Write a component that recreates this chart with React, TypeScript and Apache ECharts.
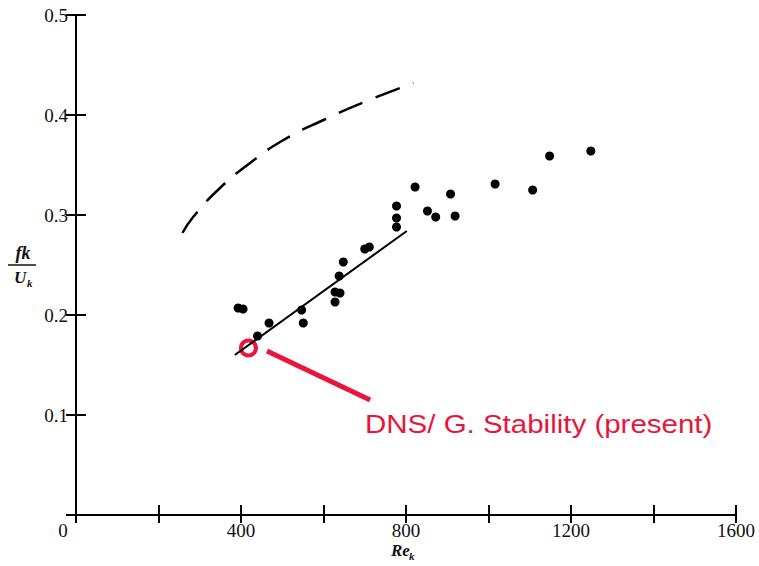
import React, { useEffect, useRef } from "react";
import * as echarts from "echarts";

const xTicks = [0, 200, 400, 600, 800, 1000, 1200, 1400, 1600];
const scatterRe = [393, 405, 440, 468, 547, 551, 628, 640, 628, 638, 648, 700, 711, 777, 777, 777, 822, 852, 872, 908, 919, 1016, 1107, 1148, 1248];
const scatterF = [0.207, 0.206, 0.179, 0.192, 0.205, 0.192, 0.223, 0.222, 0.213, 0.239, 0.253, 0.266, 0.268, 0.309, 0.297, 0.288, 0.328, 0.304, 0.298, 0.321, 0.299, 0.331, 0.325, 0.359, 0.364];
const fitRe = [385, 802];
const fitF = [0.16, 0.284];
const dashedRe = [258, 284, 349, 422, 503, 600, 705, 818];
const dashedF = [0.282, 0.298, 0.327, 0.352, 0.375, 0.395, 0.414, 0.432];
const markerRe = [418];
const markerF = [0.167];
const pointerRe = [463, 713];
const pointerF = [0.164, 0.115];
const annotation = "DNS/ G. Stability (present)";

const serif = "'Liberation Serif', 'DejaVu Serif', serif";
const RED = "#e8163c";

export default function App() {
  const ref = useRef<HTMLDivElement>(null);
  useEffect(() => {
    if (!ref.current) return;
    const chart = echarts.init(ref.current, undefined, { renderer: "svg" });
    const zip = (a: number[], b: number[]) => a.map((v, i) => [v, b[i]]);
    const axisCommon = {
      type: "value" as const,
      axisLine: { show: true, lineStyle: { color: "#000", width: 2 } },
      axisTick: { show: true, inside: true, length: 10, lineStyle: { color: "#000", width: 2 } },
      splitLine: { show: false },
    };
    chart.setOption({
      animation: false,
      grid: { left: 76, right: 23, top: 15, bottom: 51 },
      xAxis: [
        {
          ...axisCommon,
          position: "bottom",
          min: 0,
          max: 1600,
          interval: 200,
          axisLabel: {
            margin: 6,
            color: "#111",
            fontFamily: serif,
            fontSize: 19,
            formatter: (v: number) => (v === 0 ? "{z|0}" : v % 400 === 0 ? String(v) : ""),
            rich: { z: { fontFamily: serif, fontSize: 19, color: "#111", padding: [0, 26, 0, 0] } },
          },
        },
        {
          ...axisCommon,
          position: "top",
          min: 0,
          max: 1600,
          interval: 200,
          axisTick: { ...axisCommon.axisTick, length: 8 },
          axisLabel: { show: false },
        },
      ],
      yAxis: [
        {
          ...axisCommon,
          position: "left",
          min: 0,
          max: 0.5,
          interval: 0.1,
          axisLabel: {
            margin: 8,
            color: "#111",
            fontFamily: serif,
            fontSize: 19,
            formatter: (v: number) => (v === 0 ? "" : v.toFixed(1)),
          },
        },
        {
          ...axisCommon,
          position: "right",
          min: 0,
          max: 0.5,
          interval: 0.1,
          axisLabel: { show: false },
        },
      ],
      series: [
        {
          type: "line",
          data: zip(dashedRe, dashedF),
          smooth: 0.5,
          showSymbol: false,
          lineStyle: { color: "#000", width: 2.5, type: [26, 14] },
        },
        {
          type: "line",
          data: zip(fitRe, fitF),
          showSymbol: false,
          lineStyle: { color: "#000", width: 2 },
        },
        {
          type: "scatter",
          data: zip(scatterRe, scatterF),
          symbol: "circle",
          symbolSize: 9,
          itemStyle: { color: "#000", opacity: 1 },
        },
        {
          type: "line",
          data: zip(pointerRe, pointerF),
          showSymbol: false,
          lineStyle: { color: RED, width: 5 },
        },
        {
          type: "scatter",
          data: zip(markerRe, markerF),
          symbol: "circle",
          symbolSize: 15,
          itemStyle: { color: "transparent", borderColor: RED, borderWidth: 4, opacity: 1 },
        },
      ],
      graphic: [
        {
          type: "text",
          x: 365,
          y: 424,
          scaleX: 1.18,
          style: {
            text: annotation,
            fontFamily: "'Liberation Sans', Arial, sans-serif",
            fontSize: 25,
            fill: RED,
            align: "left",
            verticalAlign: "middle",
          },
        },
        {
          type: "text",
          x: 23,
          y: 253,
          style: {
            text: "fk",
            fontFamily: serif,
            fontStyle: "italic",
            fontWeight: "bold",
            fontSize: 18,
            fill: "#111",
            align: "center",
            verticalAlign: "middle",
          },
        },
        {
          type: "line",
          shape: { x1: 8, y1: 265, x2: 36, y2: 265 },
          style: { stroke: "#111", lineWidth: 1.5 },
        },
        {
          type: "text",
          x: 14,
          y: 277,
          style: {
            text: "U",
            fontFamily: serif,
            fontStyle: "italic",
            fontWeight: "bold",
            fontSize: 17,
            fill: "#111",
            align: "left",
            verticalAlign: "middle",
          },
        },
        {
          type: "text",
          x: 27,
          y: 283,
          style: {
            text: "k",
            fontFamily: serif,
            fontStyle: "italic",
            fontWeight: "bold",
            fontSize: 11,
            fill: "#111",
            align: "left",
            verticalAlign: "middle",
          },
        },
        {
          type: "text",
          x: 391,
          y: 550,
          style: {
            text: "Re",
            fontFamily: serif,
            fontStyle: "italic",
            fontWeight: "bold",
            fontSize: 17,
            fill: "#111",
            align: "left",
            verticalAlign: "middle",
          },
        },
        {
          type: "text",
          x: 409,
          y: 556,
          style: {
            text: "k",
            fontFamily: serif,
            fontStyle: "italic",
            fontWeight: "bold",
            fontSize: 11,
            fill: "#111",
            align: "left",
            verticalAlign: "middle",
          },
        },
      ],
    });
    return () => chart.dispose();
  }, []);
  return (
    <div
      ref={ref}
      style={{ position: "fixed", left: 0, top: 0, width: 759, height: 566, background: "#fff" }}
    />
  );
}
